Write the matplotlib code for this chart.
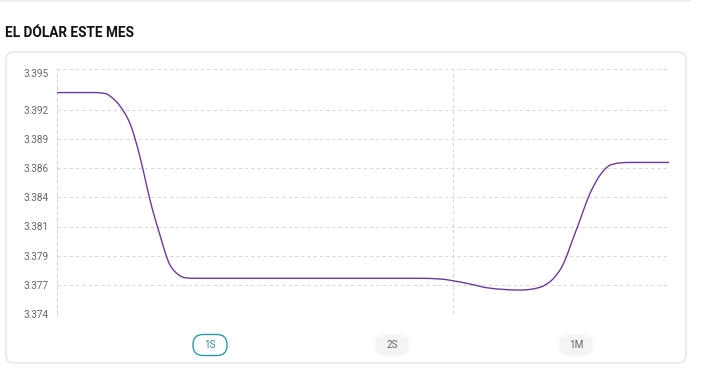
import matplotlib.pyplot as plt
from matplotlib.patches import FancyBboxPatch, PathPatch
from matplotlib.path import Path
import numpy as np

plt.rcParams['font.family'] = ['Roboto', 'DejaVu Sans']

# Tipo de cambio (dias dentro de la semana)
dias = [0, 0.435, 0.549, 0.663, 0.778, 0.835, 0.892, 0.949, 1.007, 1.064,
        1.121, 1.178, 1.235, 1.292, 1.350, 1.407, 1.464, 1.578, 4.152, 4.381,
        4.529, 4.724, 4.918, 5.101, 5.296, 5.410, 5.525, 5.639, 5.753, 5.811,
        5.868, 5.925, 5.982, 6.039, 6.096, 6.154, 6.211, 6.268, 6.325, 6.439,
        6.554, 7.0]
tipo_cambio = [3.39298, 3.39298, 3.39290, 3.39232, 3.39118, 3.39033, 3.38904,
               3.38747, 3.38562, 3.38376, 3.38219, 3.38076, 3.37933, 3.37820,
               3.37762, 3.37728, 3.37711, 3.37706, 3.37706, 3.37700, 3.37685,
               3.37657, 3.37625, 3.37611, 3.37605, 3.37611, 3.37629, 3.37677,
               3.37777, 3.37862, 3.37976, 3.38091, 3.38205, 3.38325, 3.38433,
               3.38519, 3.38590, 3.38642, 3.38676, 3.38695, 3.38699, 3.38699]

y_ticks = [3.374, 3.3765, 3.379, 3.3815, 3.384, 3.3865, 3.389, 3.3915, 3.395]
y_labels = ['3.374', '3.377', '3.379', '3.381', '3.384', '3.386', '3.389', '3.392', '3.395']
x_grid = [4.53]
botones = ['1S', '2S', '1M']


def monotone_path(x, y):
    # curva bezier monotona (como cubicInterpolationMode: 'monotone')
    x = np.asarray(x, float)
    y = np.asarray(y, float)
    h = np.diff(x)
    d = np.diff(y) / h
    m = np.zeros_like(y)
    m[0], m[-1] = d[0], d[-1]
    for k in range(1, len(x) - 1):
        if d[k - 1] * d[k] > 0:
            h0, h1 = h[k - 1], h[k]
            m[k] = 3 * (h0 + h1) / ((2 * h1 + h0) / d[k - 1] + (h1 + 2 * h0) / d[k])
    verts = [(x[0], y[0])]
    codes = [Path.MOVETO]
    for k in range(len(x) - 1):
        verts += [(x[k] + h[k] / 3, y[k] + m[k] * h[k] / 3),
                  (x[k + 1] - h[k] / 3, y[k + 1] - m[k + 1] * h[k] / 3),
                  (x[k + 1], y[k + 1])]
        codes += [Path.CURVE4] * 3
    return Path(verts, codes)


W, H = 706, 387
fig = plt.figure(figsize=(W / 100, H / 100), dpi=100)
fig.patch.set_facecolor('white')

# capa de fondo en pixeles
bg = fig.add_axes([0, 0, 1, 1])
bg.set_xlim(0, W)
bg.set_ylim(H, 0)
bg.axis('off')
bg.plot([0, 690], [1, 1], color='#eeeeee', lw=1.5)
bg.text(5, 33, 'EL DÓLAR ESTE MES', fontsize=9.8, fontweight='bold',
        color='#111111', va='center', ha='left')
card = FancyBboxPatch((6, 52), 680, 311, boxstyle='round,pad=0,rounding_size=8',
                      facecolor='white', edgecolor='#e4e4e4', lw=1)
bg.add_patch(card)

# botones de rango
btn_x = [210, 392, 576]
for i, (lbl, cx) in enumerate(zip(botones, btn_x)):
    activo = i == 0
    w, h = 34, 21
    pill = FancyBboxPatch((cx - w / 2, 345 - h / 2), w, h,
                          boxstyle='round,pad=0,rounding_size=10',
                          facecolor='white' if activo else '#f4f4f4',
                          edgecolor='#2a9aa3' if activo else 'none', lw=1.0)
    bg.add_patch(pill)
    bg.text(cx, 345.5, lbl, fontsize=7.2, ha='center', va='center',
            color='#2a8f99' if activo else '#666666')

# grafico
ax = fig.add_axes([57 / W, (H - 314) / H, 612 / W, 245 / H])
ax.set_facecolor('none')
ax.add_patch(PathPatch(monotone_path(dias, tipo_cambio), facecolor='none',
                       edgecolor='#6b3a9c', lw=1.0, zorder=3))
ax.set_xlim(0, 7)
ax.set_ylim(3.374, 3.395)

ax.set_yticks(y_ticks)
ax.set_yticklabels(y_labels)
ax.set_xticks(x_grid)
ax.set_xticklabels([])
ax.tick_params(axis='both', length=0, labelsize=7.2, labelcolor='#666666', pad=5.8)
ax.yaxis.get_ticklabels()[-1].set_va('top')

grid_kw = dict(color='#d6d6d6', lw=0.75, linestyle=(0, (3, 3)))
ax.grid(True, axis='y', **grid_kw)
ax.grid(True, axis='x', **grid_kw)
for s in ['top', 'right', 'bottom']:
    ax.spines[s].set_visible(False)
ax.spines['left'].set_color('#d6d6d6')
ax.spines['left'].set_linewidth(0.75)
ax.spines['left'].set_linestyle((0, (3, 3)))

fig.savefig('out.png', dpi=100, facecolor='white')
